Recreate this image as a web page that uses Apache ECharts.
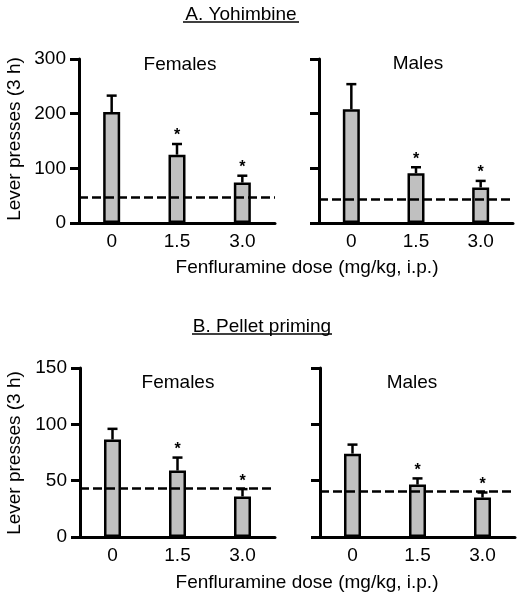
<!DOCTYPE html>
<html><head><meta charset="utf-8">
<script src="https://cdn.jsdelivr.net/npm/echarts@6/dist/echarts.min.js"></script>
<style>html,body{margin:0;padding:0;background:#fff}#c{width:525px;height:601px}</style>
</head><body><div id="c"></div>
<script>
const categories = ['0', '1.5', '3.0'];
const yohFemMean = [203, 125, 74];
const yohFemErr = [30, 19.5, 12.5];
const yohMaleMean = [208, 91, 65];
const yohMaleErr = [46, 11, 12];
const pelFemMean = [86.5, 59, 36];
const pelFemErr = [9.5, 11.5, 6.5];
const pelMaleMean = [74, 46.5, 35];
const pelMaleErr = [8, 5.5, 4.5];
const stars = [0, 1, 1];
const baselines = [47, 43, 43, 41];
const yohTicks = {max: 300, interval: 100};
const pelTicks = {max: 150, interval: 50};
const titleA = 'A. Yohimbine';
const titleB = 'B. Pellet priming';
const xName = 'Fenfluramine dose (mg/kg, i.p.)';
const yName = 'Lever presses (3 h)';
const panelNames = ['Females', 'Males', 'Females', 'Males'];

const FONT = '"Liberation Sans", Arial, sans-serif';
const chart = echarts.init(document.getElementById('c'), null, {renderer: 'canvas'});

const grids = [
  {left: 79, top: 59, width: 196, height: 164},
  {left: 319, top: 59, width: 194, height: 164},
  {left: 80, top: 368, width: 195, height: 169},
  {left: 320, top: 368, width: 195, height: 169}
];
const means = [yohFemMean, yohMaleMean, pelFemMean, pelMaleMean];
const errs = [yohFemErr, yohMaleErr, pelFemErr, pelMaleErr];
const ticks = [yohTicks, yohTicks, pelTicks, pelTicks];

const xAxes = grids.map((g, i) => ({
  type: 'category', gridIndex: i, data: categories,
  axisLine: {lineStyle: {color: '#000', width: 3}},
  axisTick: {length: 7, lineStyle: {color: '#000', width: 3}},
  axisLabel: {fontSize: 19, color: '#000', margin: 9, fontFamily: FONT},
  splitLine: {show: false}
}));
const yAxes = grids.map((g, i) => ({
  type: 'value', gridIndex: i, min: 0, max: ticks[i].max, interval: ticks[i].interval,
  axisLine: {show: true, lineStyle: {color: '#000', width: 3}},
  axisTick: {show: true, length: 9, lineStyle: {color: '#000', width: 3}},
  axisLabel: {show: i % 2 === 0, fontSize: 19, color: '#000', margin: 13, fontFamily: FONT},
  splitLine: {show: false}
}));

const series = [];
grids.forEach((g, i) => {
  series.push({
    type: 'bar', xAxisIndex: i, yAxisIndex: i, data: means[i], barWidth: 17,
    itemStyle: {color: '#c0c0c0', borderColor: '#000', borderWidth: 2.5},
    silent: true, animation: false,
    markLine: {
      silent: true, symbol: 'none', animation: false,
      label: {show: false},
      lineStyle: {color: '#000', width: 2.5, type: [9, 4]},
      data: [{yAxis: baselines[i]}]
    }
  });
  series.push({
    type: 'custom', xAxisIndex: i, yAxisIndex: i, z: 5, animation: false,
    data: means[i].map((m, k) => [k, m, errs[i][k], stars[k]]),
    renderItem: function (params, api) {
      const k = api.value(0), m = api.value(1), e = api.value(2), s = api.value(3);
      const p0 = api.coord([k, m]);
      const p1 = api.coord([k, m + e]);
      const children = [
        {type: 'line', shape: {x1: p0[0], y1: p0[1], x2: p1[0], y2: p1[1]}, style: {stroke: '#000', lineWidth: 2.5}},
        {type: 'line', shape: {x1: p1[0] - 5, y1: p1[1], x2: p1[0] + 5, y2: p1[1]}, style: {stroke: '#000', lineWidth: 2.5}}
      ];
      if (s) {
        children.push({type: 'text', style: {text: '*', x: p1[0], y: p1[1] - 8, font: 'bold 16px ' + FONT, fill: '#000', align: 'center', verticalAlign: 'middle'}});
      }
      return {type: 'group', children: children};
    }
  });
});

function txt(text, x, y, size, rot) {
  return {type: 'text', x: x, y: y, rotation: rot || 0,
    style: {text: text, font: size + 'px ' + FONT, fill: '#000', align: 'center', verticalAlign: 'middle'}};
}
const graphic = [
  txt(titleA, 241, 15, 19), {type: 'line', shape: {x1: 183, y1: 22, x2: 299, y2: 22}, style: {stroke: '#000', lineWidth: 1.5}},
  txt(titleB, 262, 327, 19), {type: 'line', shape: {x1: 192, y1: 334, x2: 332, y2: 334}, style: {stroke: '#000', lineWidth: 1.5}},
  txt(panelNames[0], 180, 65, 19), txt(panelNames[1], 418, 64, 19),
  txt(panelNames[2], 178, 383, 19), txt(panelNames[3], 412, 383, 19),
  txt(yName, 15, 139, 19, Math.PI / 2), txt(yName, 15, 453, 19, Math.PI / 2),
  txt(xName, 307, 268, 19), txt(xName, 307, 583, 19)
];

chart.setOption({
  animation: false,
  grid: grids,
  xAxis: xAxes,
  yAxis: yAxes,
  series: series,
  graphic: graphic
});
</script></body></html>
